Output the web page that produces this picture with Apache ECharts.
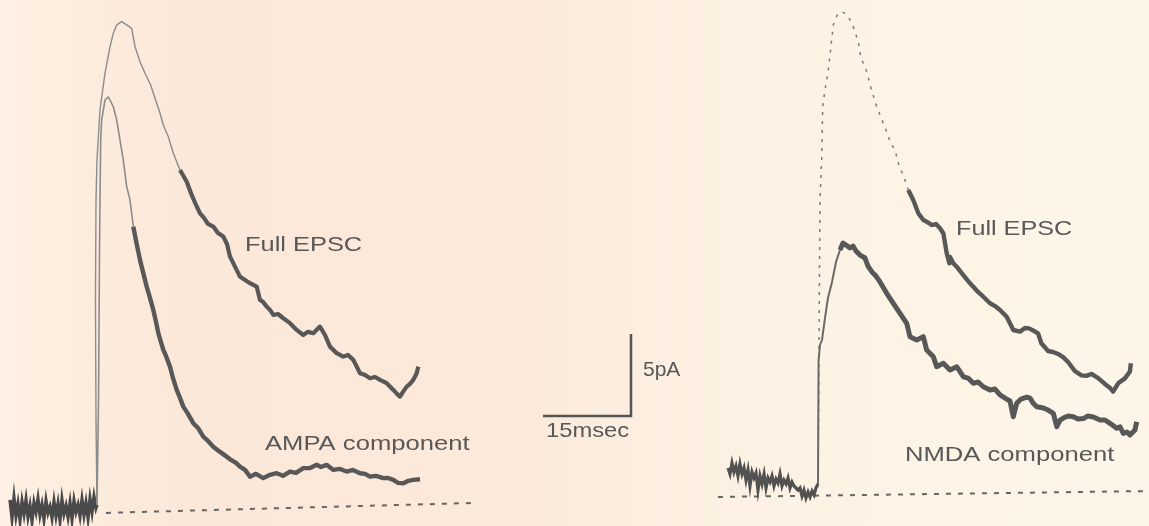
<!DOCTYPE html>
<html>
<head>
<meta charset="utf-8">
<script src="https://cdn.jsdelivr.net/npm/echarts@6/dist/echarts.min.js"></script>
<style>
html,body{margin:0;padding:0;background:#fdf3e6;}
#chart{width:1149px;height:526px;}
</style>
</head>
<body>
<div id="chart"></div>
<script>
// ---- Data: time in ms (0 = stimulus), current in pA (0 = baseline) ----
// Left panel: Full EPSC vs AMPA component
const leftPre = [[-14.83,0.79],[-14.49,-0.30],[-14.15,0.91],[-13.81,-0.18],[-13.47,0.55],[-13.12,-0.43],[-12.78,0.67],[-12.44,-0.06],[-12.10,0.79],[-11.76,-0.24],[-11.42,0.43],[-11.08,-0.49],[-10.74,0.61],[-10.40,0.06],[-10.06,0.85],[-9.72,-0.12],[-9.38,0.49],[-9.04,-0.37],[-8.69,0.73],[-8.35,0],[-8.01,0.37],[-7.67,-0.30],[-7.33,0.67],[-6.99,-0.18],[-6.65,0.55],[-6.31,-0.43],[-5.97,0.79],[-5.63,-0.06],[-5.28,0.43],[-4.94,-0.24],[-4.60,0.61],[-4.26,-0.37],[-3.92,0.73],[-3.58,0.06],[-3.24,0.49],[-2.90,-0.18],[-2.56,0.79],[-2.22,-0.12],[-1.88,0.61],[-1.53,-0.30],[-1.19,0.85],[-0.85,0.06],[-0.51,0.98],[-0.17,0.30],[0,0.49]];
const leftFullRise = [[0,0.49],[-0.17,5.67],[-0.26,12.99],[-0.17,19.09],[0,21.52],[0.51,24.57],[1.36,26.81],[2.22,28.43],[2.78,29.25],[3.36,29.76],[4.21,29.96],[5.06,29.76],[5.91,29.55],[6.48,28.43],[7.33,27.52],[8.18,26.81],[9.15,26.10],[9.89,25.29],[10.74,24.37],[11.30,23.66],[12.15,22.95],[13.01,21.93],[14.15,20.91]];
const leftFullDecay = [[14.15,20.91],[15.29,20.20],[16.14,19.39],[16.88,18.78],[17.56,18.27],[18.24,17.99],[18.92,17.62],[19.82,17.46],[20.62,17.07],[21.53,16.85],[22.16,16.40],[22.67,15.63],[23.23,15.23],[24.37,14.41],[25.23,14.21],[26.08,14.01],[27.22,13.80],[27.78,12.99],[28.29,12.87],[28.93,12.58],[29.49,12.38],[30.05,12.07],[30.85,12.13],[31.76,11.87],[32.90,11.57],[34.04,11.16],[35.16,10.85],[35.96,11.04],[36.87,10.96],[38.01,11.36],[38.86,10.85],[39.71,10.14],[40.86,9.74],[41.98,9.53],[42.78,9.63],[43.69,9.33],[44.84,8.52],[45.69,8.41],[46.53,8.21],[47.39,8.29],[48.24,8.11],[49.38,7.91],[50.51,7.50],[51.14,7.26],[51.65,7.09],[52.16,7.38],[52.79,7.70],[53.35,7.87],[53.91,8.11],[54.49,8.52],[54.77,8.92]];
const leftAmpaRise = [[0,0.49],[0.26,6.89],[0.43,16.04],[0.51,19.09],[0.63,22.74],[0.80,23.96],[1.36,25.18],[1.93,25.38],[2.22,25.30],[2.78,24.77],[3.36,23.96],[3.92,22.74],[4.48,21.52],[5.06,19.90],[5.62,19.09],[6.19,17.46]];
const leftAmpaDecay = [[6.19,17.46],[6.73,16.46],[7.33,15.43],[7.84,14.70],[8.47,13.80],[9.03,13.11],[9.60,12.38],[10.06,11.65],[10.45,10.96],[11.30,9.94],[11.76,9.57],[12.44,8.92],[12.95,8.23],[13.58,7.50],[14.15,7.01],[14.71,6.48],[15.51,6.04],[16.41,5.47],[17.22,5.18],[18.12,4.65],[18.92,4.39],[19.82,4.04],[20.97,3.72],[22.11,3.43],[22.84,3.23],[23.69,3.05],[24.37,2.82],[25.23,2.62],[26.08,2.21],[27.10,2.38],[28.35,2.12],[29.49,2.32],[30.63,2.42],[31.70,2.26],[32.90,2.52],[33.92,2.44],[35.16,2.73],[36.31,2.74],[37.45,2.93],[38.18,2.80],[39.15,2.93],[40.28,2.62],[41.42,2.68],[42.56,2.52],[43.64,2.62],[44.84,2.42],[45.69,2.38],[46.53,2.21],[47.56,2.26],[48.80,2.12],[49.60,2.13],[50.51,2.01],[51.31,1.83],[52.21,1.81],[53.01,1.95],[53.91,2.01],[55.06,2.05]];
const leftBaseline = [[1.53,0],[64.6,0.61]];

// Right panel: Full EPSC vs NMDA component
const rightPre = [[-15.34,1.59],[-15.00,1.22],[-14.66,1.89],[-14.32,1.34],[-13.98,1.71],[-13.64,1.10],[-13.30,1.83],[-12.95,1.22],[-12.61,1.59],[-12.27,0.85],[-11.93,1.46],[-11.59,0.49],[-11.25,1.34],[-10.91,0.98],[-10.57,1.28],[-10.23,0.24],[-9.89,1.10],[-9.55,0.61],[-9.20,1.22],[-8.86,0.37],[-8.52,0.98],[-8.18,0.73],[-7.84,1.10],[-7.50,0.49],[-7.16,0.91],[-6.82,0.67],[-6.48,1.22],[-6.14,0.49],[-5.80,0.85],[-5.45,0.61],[-5.11,0.98],[-4.77,0.37],[-4.43,0.73],[-4.09,0.49],[-3.75,0.61],[-3.41,0.24],[-3.07,0.37],[-2.73,-0.12],[-2.39,0.24],[-2.05,-0.24],[-1.70,0.12],[-1.36,-0.18],[-1.02,0.18],[-0.68,-0.06],[-0.34,0.37],[0,0.61]];
const rightFullRise = [[0,0.61],[0.09,4.51],[0.17,8.78],[0.22,11.83],[0.34,17.93],[0.63,20.37],[0.80,23.62],[1.19,24.63],[1.76,25.85],[2.61,28.60],[3.29,29.21],[4.04,29.41],[4.60,29.31],[5.17,29.10],[5.91,28.60],[6.87,27.58],[7.33,26.57],[8.13,25.96],[9.04,24.76],[10.01,23.62],[10.57,23.11],[11.13,22.60],[11.59,22.20],[12.39,21.38],[13.12,20.98],[13.86,19.96],[14.54,19.45],[15.39,18.54]];
const rightFullDecay = [[15.39,18.54],[16.24,17.93],[17.10,17.12],[17.95,16.71],[18.58,16.59],[19.38,16.40],[20.11,16.46],[20.80,16.20],[21.36,15.90],[21.94,14.68],[22.39,14.07],[22.50,14.45],[23.06,14.07],[23.64,13.86],[24.20,13.60],[24.77,13.35],[25.57,12.99],[26.47,12.64],[27.27,12.32],[28.18,12.03],[29.32,11.63],[30.17,11.46],[31.02,11.22],[32.16,10.81],[33.29,10.00],[34.43,9.90],[35.28,10.12],[35.97,10.10],[36.83,9.94],[37.50,9.80],[38.07,9.19],[39.22,8.72],[40.07,8.66],[40.92,8.54],[41.78,8.35],[42.63,8.05],[43.77,7.50],[44.91,7.23],[45.71,7.20],[46.61,7.32],[47.76,7.07],[48.90,6.71],[49.80,6.46],[50.31,6.24],[51.16,6.75],[52.31,7.05],[53.16,7.46],[53.33,7.97]];
const rightNmdaRise = [[0,0.61],[0.05,4.51],[0.10,8.17],[0.34,9.09],[0.68,9.39],[1.19,10.73],[1.70,11.95],[2.39,12.93],[3.07,14.15],[3.75,14.88]];
const rightNmdaDecay = [[3.75,14.88],[4.26,15.30],[4.77,15.18],[5.46,15.00],[5.97,15.12],[6.48,14.82],[7.16,14.57],[8.01,14.39],[8.52,13.90],[9.20,13.54],[9.89,13.29],[10.57,12.93],[11.71,12.24],[12.84,11.63],[13.98,11.02],[15.12,10.41],[15.68,9.59],[16.82,9.39],[17.95,9.59],[18.53,8.78],[19.66,8.37],[20.23,7.76],[21.36,7.97],[22.50,7.56],[23.64,7.76],[24.77,7.15],[25.57,7.07],[26.47,6.75],[27.27,6.83],[28.18,6.54],[29.32,6.34],[30.17,6.40],[31.02,6.04],[32.16,5.79],[32.73,5.67],[33.29,4.71],[33.87,5.53],[34.60,5.79],[35.57,5.91],[36.14,5.84],[36.70,5.53],[37.28,5.32],[38.41,5.24],[39.22,5.12],[40.12,4.92],[40.70,4.10],[41.26,4.51],[41.82,4.63],[42.63,4.76],[43.52,4.71],[44.32,4.57],[45.23,4.60],[46.02,4.76],[46.93,4.70],[48.07,4.51],[48.92,4.51],[49.77,4.31],[50.92,4.01],[51.48,4.09],[52.04,3.70],[52.67,3.78],[53.18,3.60],[54.03,3.90],[54.32,4.41]];
const rightBaseline = [[-17.05,-0.18],[56.42,0.18]];

// Scale bar: 15 ms x 5 pA
const scaleBar = [[0,0],[15,0],[15,5]];

// Text labels
const labelTexts = ['Full EPSC','AMPA component','Full EPSC','NMDA component','5pA','15msec'];

// ---- Chart ----
const chart = echarts.init(document.getElementById('chart'), null, {renderer:'canvas'});
const INK = '#585858';
const FAINT = '#8c8c8c';
const FONT = '"Liberation Sans", Arial, sans-serif';

function line(data, gi, opts) {
  return Object.assign({
    type:'line', data: data, xAxisIndex: gi, yAxisIndex: gi,
    showSymbol:false, symbol:'none', silent:true, animation:false, clip:false,
    lineStyle:{color:INK, width:3, join:'round', cap:'round'}
  }, opts || {});
}

function label(text, x, baseline, scaleX) {
  return {
    type:'text', x:x, y:baseline - 7.5, scaleX: scaleX, silent:true,
    style:{text:text, x:0, y:0, fill:'#585858', font:'21px ' + FONT, verticalAlign:'middle', align:'left'}
  };
}

const option = {
  backgroundColor: {
    type:'linear', x:0, y:0, x2:1, y2:0,
    colorStops:[
      {offset:0, color:'#fdf1e3'},
      {offset:0.15, color:'#fbe8d8'},
      {offset:0.42, color:'#fbe9da'},
      {offset:0.7, color:'#fdf3e5'},
      {offset:1, color:'#fdf6e8'}
    ]
  },
  animation:false,
  grid:[
    {left:9, top:4.6, width:469.33, height:521.5},
    {left:712.4, top:2, width:436.48, height:516.6},
    {left:543, top:334, width:88, height:82}
  ],
  xAxis:[
    {type:'value', gridIndex:0, min:-15, max:65, show:false},
    {type:'value', gridIndex:1, min:-18, max:56.4, show:false},
    {type:'value', gridIndex:2, min:0, max:15, show:false}
  ],
  yAxis:[
    {type:'value', gridIndex:0, min:-0.8, max:31, show:false},
    {type:'value', gridIndex:1, min:-1.5, max:30, show:false},
    {type:'value', gridIndex:2, min:0, max:5, show:false}
  ],
  series:[
    line(leftBaseline, 0, {lineStyle:{color:'#666', width:2, type:[5,7]}}),
    line(rightBaseline, 1, {lineStyle:{color:'#666', width:2, type:[5,7]}}),
    line(leftPre, 0, {lineStyle:{color:'#4a4a4a', width:3.4, join:'miter'}}),
    line(leftFullRise, 0, {lineStyle:{color:FAINT, width:1.4}}),
    line(leftFullDecay, 0, {lineStyle:{color:INK, width:4.2, join:'round'}}),
    line(leftAmpaRise, 0, {lineStyle:{color:FAINT, width:1.6}}),
    line(leftAmpaDecay, 0, {lineStyle:{color:INK, width:4.4, join:'round'}}),
    line(rightPre, 1, {lineStyle:{color:'#525252', width:3.2, join:'miter'}}),
    line(rightFullRise, 1, {lineStyle:{color:'#7a7a7a', width:1.5, type:[3,6]}}),
    line(rightFullDecay, 1, {lineStyle:{color:INK, width:4.4, join:'round'}}),
    line(rightNmdaRise, 1, {lineStyle:{color:'#6a6a6a', width:2}}),
    line(rightNmdaDecay, 1, {lineStyle:{color:INK, width:5, join:'round'}}),
    line(scaleBar, 2, {lineStyle:{color:'#555', width:2.5, join:'miter', cap:'butt'}})
  ],
  graphic:[
    label(labelTexts[0], 245, 253, 1.21),
    label(labelTexts[1], 265, 452, 1.22),
    label(labelTexts[2], 956, 237, 1.2),
    label(labelTexts[3], 905, 463, 1.22),
    label(labelTexts[4], 643, 378, 1.0),
    label(labelTexts[5], 546, 439, 1.13)
  ]
};
chart.setOption(option);
</script>
</body>
</html>
